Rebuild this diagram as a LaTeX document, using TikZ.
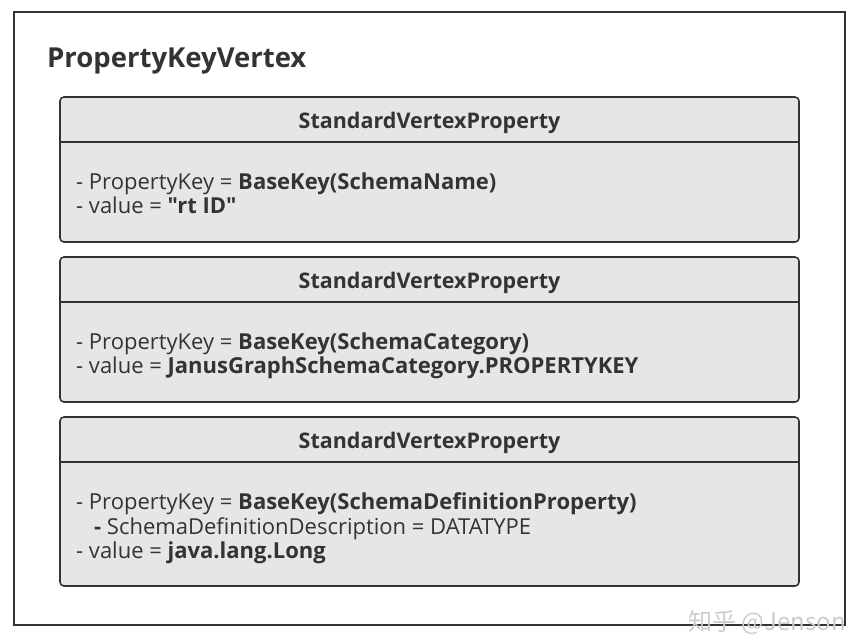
\documentclass[tikz,border=0pt]{standalone}
\usepackage{fontspec}
\setmainfont{Open Sans}[Ligatures=TeXOff]
\newfontfamily\cjkfont{Noto Sans CJK SC}
\usepackage{tikz}
\usetikzlibrary{positioning}
\definecolor{ink}{HTML}{333333}
\definecolor{boxfill}{HTML}{E6E6E6}

\begin{document}
\begin{tikzpicture}[
    x=1pt, y=-1pt,
    frame/.style={draw=ink, line width=1.8pt},
    propbox/.style={draw=ink, fill=boxfill, rounded corners=4pt, line width=1.6pt, minimum width=739pt, inner sep=0pt},
    sepline/.style={draw=ink, line width=1.6pt},
    title/.style={font=\fontsize{27.5}{30}\selectfont\bfseries, text=ink, anchor=base west, inner sep=0pt},
    header/.style={font=\fontsize{21.5}{24}\selectfont\bfseries, text=ink, anchor=base, inner sep=0pt},
    body/.style={font=\fontsize{22}{24}\selectfont, text=ink, anchor=base west, inner sep=0pt}
]
\useasboundingbox (0,0) rectangle (861,633);

% Outer frame
\draw[frame] (14,12) rectangle (845,625);
\node[title] (vtx) at (47,67) {PropertyKeyVertex};

% First property
\node[propbox, minimum height=145pt] (box1) at (429.5,169.5) {};
\draw[sepline] ([yshift=-46pt]box1.north west) -- ([yshift=-46pt]box1.north east);
\node[header] (head1) at (429.5,128) {StandardVertexProperty};
\node[body] (key1) at (76,189) {- PropertyKey = \textbf{BaseKey(SchemaName)}};
\node[body] (val1) at (76,213) {- value = \textbf{"rt ID"}};

% Second property
\node[propbox, minimum height=145pt] (box2) at (429.5,329.5) {};
\draw[sepline] ([yshift=-46pt]box2.north west) -- ([yshift=-46pt]box2.north east);
\node[header] (head2) at (429.5,288) {StandardVertexProperty};
\node[body] (key2) at (76,349) {- PropertyKey = \textbf{BaseKey(SchemaCategory)}};
\node[body] (val2) at (76,373) {- value = \textbf{JanusGraphSchemaCategory.PROPERTYKEY}};

% Third property
\node[propbox, minimum height=169pt] (box3) at (429.5,501.5) {};
\draw[sepline] ([yshift=-46pt]box3.north west) -- ([yshift=-46pt]box3.north east);
\node[header] (head3) at (429.5,448) {StandardVertexProperty};
\node[body] (key3) at (76,509) {- PropertyKey = \textbf{BaseKey(SchemaDefinitionProperty)}};
\node[body] (desc3) at (94,534) {\textbf{-} SchemaDefinitionDescription = DATATYPE};
\node[body] (val3) at (76,558) {- value = \textbf{java.lang.Long}};

% Watermark
\node[font=\fontsize{24}{26}\selectfont\cjkfont, text=gray!40, anchor=base east, inner sep=0pt] (mark) at (846,630) {知乎 @Jenson};

\end{tikzpicture}
\end{document}
